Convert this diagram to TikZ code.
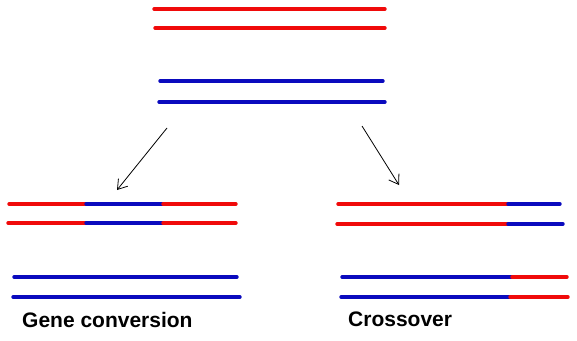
\documentclass[tikz,border=0pt]{standalone}
\usepackage{fontspec}
\setmainfont{Liberation Sans}
\usepackage{xcolor}
\usetikzlibrary{arrows.meta}
\definecolor{strandred}{RGB}{240,10,10}
\definecolor{strandblue}{RGB}{10,10,190}

\begin{document}
\begin{tikzpicture}[x=1pt, y=-1pt,
  redline/.style={draw=strandred, line width=3.4pt, line cap=round},
  blueline/.style={draw=strandblue, line width=3.4pt, line cap=round},
  arrow/.style={-{Straight Barb[length=9pt, width=12pt]}, line width=0.8pt},
  caption/.style={anchor=west, inner sep=0pt, font=\bfseries\fontsize{21}{24}\selectfont}]
\useasboundingbox (0,0) rectangle (577,340);
% parent chromatids
\draw[redline] (154,9) -- (385,9);
\draw[redline] (155,28) -- (385,28);
\draw[blueline] (160,81) -- (383,81);
\draw[blueline] (159,102) -- (385,102);
\coordinate (splitL) at (167,128);
\coordinate (splitR) at (362,126);
% gene conversion
\draw[redline] (9,204) -- (86,204);
\draw[blueline] (86,204) -- (163,204);
\draw[redline] (163,204) -- (236,204);
\draw[redline] (8,223) -- (86,223);
\draw[blueline] (86,223) -- (163,223);
\draw[redline] (163,223) -- (236,223);
\draw[blueline] (14,277) -- (237,277);
\draw[blueline] (13,297) -- (240,297);
\coordinate (convTop) at (117,190);
\node[caption] (conv) at (22,320) {Gene conversion};
% crossover
\draw[redline] (338,204) -- (508,204);
\draw[blueline] (508,204) -- (560,204);
\draw[redline] (337,224) -- (508,224);
\draw[blueline] (508,224) -- (563,224);
\draw[blueline] (342,277) -- (512,277);
\draw[redline] (512,277) -- (567,277);
\draw[blueline] (341,297) -- (510,297);
\draw[redline] (510,297) -- (568,297);
\coordinate (crossTop) at (399,185);
\node[caption] (cross) at (348,319) {Crossover};
% arrows
\draw[arrow] (splitL) -- (convTop);
\draw[arrow] (splitR) -- (crossTop);
\end{tikzpicture}
\end{document}
